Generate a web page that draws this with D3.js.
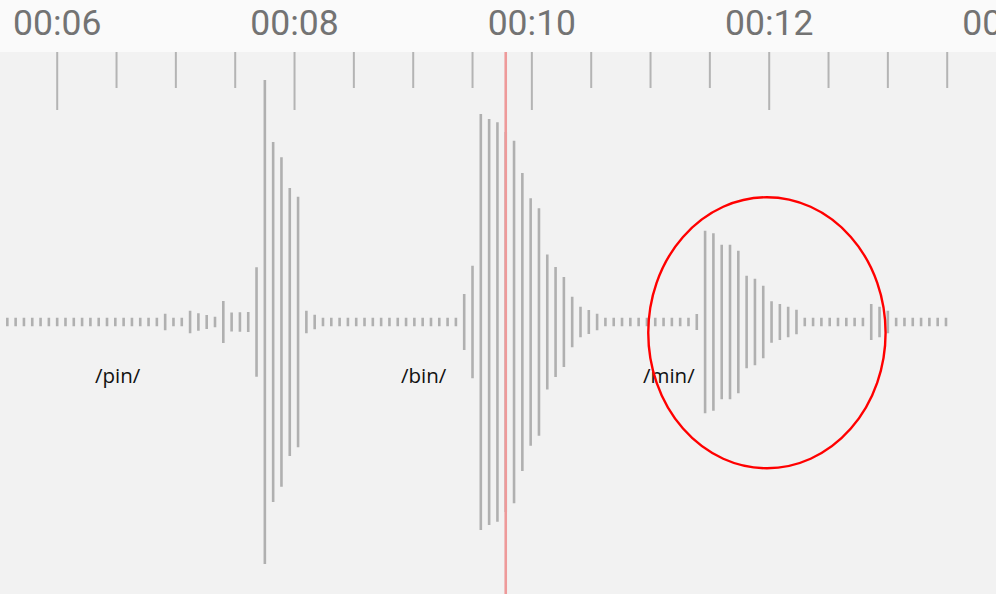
<!DOCTYPE html>
<html><head><meta charset="utf-8">
<script src="https://cdn.jsdelivr.net/npm/d3@7"></script>
<style>html,body{margin:0;padding:0;background:#fff;overflow:hidden}</style>
</head><body><svg id="c" width="996" height="594"></svg>
<script>
// ---- data ----
const startTime = 5.584;      // seconds, first waveform bin
const binDuration = 0.07;     // seconds per bin
const amplitudes = [
  1.7,1.7,1.7,1.7,1.7,1.7,1.7,1.7,1.7,1.7,1.7,1.7,1.7,1.7,1.7,1.7,1.7,1.7,1.7,
  3.3,1.7,1.7,4.5,3.5,2.8,2.1,8.4,3.8,3.9,4.0,
  21.9,96.8,72.0,65.9,53.6,50.1,4.5,2.9,
  1.7,1.7,1.7,1.7,1.7,1.7,1.7,1.7,1.7,1.7,1.7,1.7,1.7,1.7,1.7,1.7,1.7,
  11.2,22.5,83.2,81.2,79.9,76.0,72.5,59.6,49.5,45.5,27.0,22.0,18.0,10.1,6.1,4.8,3.3,
  1.7,1.7,1.7,1.7,1.7,1.7,1.7,1.7,1.7,1.7,1.7,
  3.2,36.5,35.5,30.9,30.9,28.5,18.5,17.3,14.5,8.3,7.2,6.1,4.9,
  1.7,1.7,1.7,1.7,1.7,1.7,1.7,1.7,
  7.2,6.1,4.5,
  1.7,1.7,1.7,1.7,1.7,1.7,1.7
];
const majorTicks = [6, 8, 10, 12, 14];
const tickLabels = ["00:06", "00:08", "00:10", "00:12", "00:14"];
const minorTicks = [6.5, 7, 7.5, 8.5, 9, 9.5, 10.5, 11, 11.5, 12.5, 13, 13.5];
const playheadTime = 9.784;
const phonemeLabels = ["/pin/", "/bin/", "/min/"];
const phonemeTimes = [6.323, 8.901, 10.94];
const highlight = {t: 11.985, a: -4.3, rt: 1.0, ra: 54.2};

// ---- chart ----
const W = 996, H = 594, headerH = 52;
const svg = d3.select("#c");
const x = d3.scaleLinear().domain([6, 12]).range([56.7, 768.7]);
const y = d3.scaleLinear().domain([-100, 100]).range([572, 72]);

svg.append("rect").attr("x", 0).attr("y", 0).attr("width", W).attr("height", H).attr("fill", "#f2f2f2");
svg.append("rect").attr("x", 0).attr("y", 0).attr("width", W).attr("height", headerH).attr("fill", "#fafafa");

// axis ticks
const fmt = d => tickLabels[majorTicks.indexOf(d)];
const majorAxis = d3.axisTop(x).tickValues(majorTicks).tickSize(0).tickFormat(fmt);
const gLab = svg.append("g").attr("transform", "translate(0,35)").call(majorAxis);
gLab.select(".domain").remove();
gLab.selectAll("text").attr("y", 0).attr("dy", 0)
  .attr("font-family", "Roboto, sans-serif").attr("font-size", 35.5).attr("fill", "#737373");

const gMaj = svg.append("g").attr("transform", `translate(0,${headerH})`)
  .call(d3.axisBottom(x).tickValues(majorTicks).tickSize(58).tickFormat(""));
const gMin = svg.append("g").attr("transform", `translate(0,${headerH})`)
  .call(d3.axisBottom(x).tickValues(minorTicks).tickSize(36).tickFormat(""));
[gMaj, gMin].forEach(g => {
  g.select(".domain").remove();
  g.selectAll("line").attr("stroke", "#b4b4b4").attr("stroke-width", 2);
});

// waveform bars
const bars = amplitudes.map((a, i) => ({t: startTime + i * binDuration, a}));
svg.append("g").selectAll("rect").data(bars).join("rect")
  .attr("x", d => x(d.t) - 1.3)
  .attr("width", 2.6)
  .attr("y", d => y(d.a))
  .attr("height", d => y(-d.a) - y(d.a))
  .attr("fill", "#b0b0b0");

// playhead
svg.append("line")
  .attr("x1", x(playheadTime)).attr("x2", x(playheadTime))
  .attr("y1", headerH).attr("y2", H)
  .attr("stroke", "#ee9a9a").attr("stroke-width", 2.6);

// phoneme labels
svg.append("g").selectAll("text").data(phonemeLabels).join("text")
  .attr("x", (d, i) => x(phonemeTimes[i]))
  .attr("y", y(-24.4))
  .attr("font-family", "'Open Sans', sans-serif")
  .attr("font-size", 20.5)
  .attr("fill", "#111")
  .text(d => d);

// highlight ellipse
svg.append("ellipse")
  .attr("cx", x(highlight.t)).attr("cy", y(highlight.a))
  .attr("rx", x(highlight.t + highlight.rt) - x(highlight.t))
  .attr("ry", y(highlight.a - highlight.ra) - y(highlight.a))
  .attr("fill", "none").attr("stroke", "#ff0000").attr("stroke-width", 2.4);
</script></body></html>
